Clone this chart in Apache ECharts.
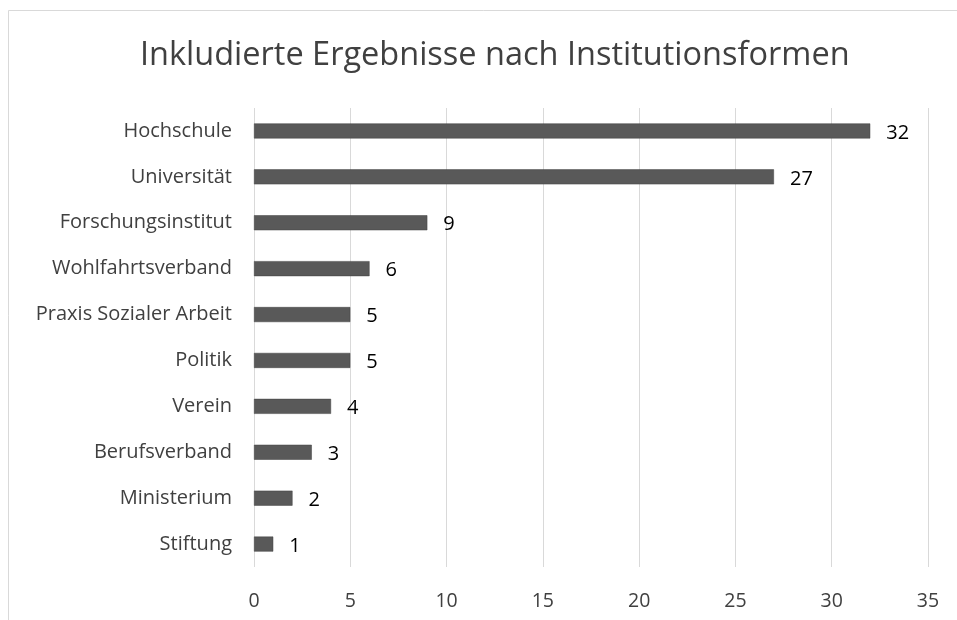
<!DOCTYPE html>
<html>
<head>
<meta charset="utf-8">
<script src="https://cdn.jsdelivr.net/npm/echarts@6/dist/echarts.min.js"></script>
<style>
  html, body { margin: 0; padding: 0; background: #fff; }
  #main { width: 957px; height: 620px; }
</style>
</head>
<body>
<div id="main"></div>
<script>
var myChart = echarts.init(document.getElementById('main'));

var categories = ['Hochschule', 'Universität', 'Forschungsinstitut', 'Wohlfahrtsverband',
    'Praxis Sozialer Arbeit', 'Politik', 'Verein', 'Berufsverband', 'Ministerium', 'Stiftung'];
var counts = [32, 27, 9, 6, 5, 5, 4, 3, 2, 1];
var xTicks = [0, 5, 10, 15, 20, 25, 30, 35];

var textColor = '#404040';
var fontFam = '"Open Sans", sans-serif';

var option = {
    backgroundColor: '#fff',
    animation: false,
    title: {
        text: 'Inkludierte Ergebnisse nach Institutionsformen',
        left: 135,
        top: 34,
        textStyle: {
            color: textColor,
            fontFamily: fontFam,
            fontSize: 32.5,
            fontWeight: 'normal'
        }
    },
    graphic: [{
        type: 'rect',
        shape: { x: 8.5, y: 10.5, width: 1000, height: 1000 },
        style: { fill: 'none', stroke: '#d9d9d9', lineWidth: 1 },
        silent: true
    }],
    grid: {
        left: 254,
        right: 29,
        top: 108,
        bottom: 53
    },
    xAxis: {
        type: 'value',
        min: xTicks[0],
        max: xTicks[xTicks.length - 1],
        interval: 5,
        axisLine: { show: false },
        axisTick: { show: false },
        axisLabel: {
            color: textColor,
            fontFamily: fontFam,
            fontSize: 19.5,
            margin: 24
        },
        splitLine: { lineStyle: { color: '#d9d9d9', width: 1 } }
    },
    yAxis: {
        type: 'category',
        inverse: true,
        data: categories,
        axisLine: { show: false },
        axisTick: { show: false },
        axisLabel: {
            color: textColor,
            fontFamily: fontFam,
            fontSize: 20,
            margin: 22
        }
    },
    series: [{
        type: 'bar',
        data: counts,
        barWidth: 15,
        itemStyle: {
            color: '#595959',
            borderColor: '#404040',
            borderWidth: 0.5
        },
        label: {
            show: true,
            position: 'right',
            distance: 16,
            color: '#000',
            fontFamily: fontFam,
            fontSize: 20,
            offset: [0, 2]
        }
    }]
};

myChart.setOption(option);
</script>
</body>
</html>
